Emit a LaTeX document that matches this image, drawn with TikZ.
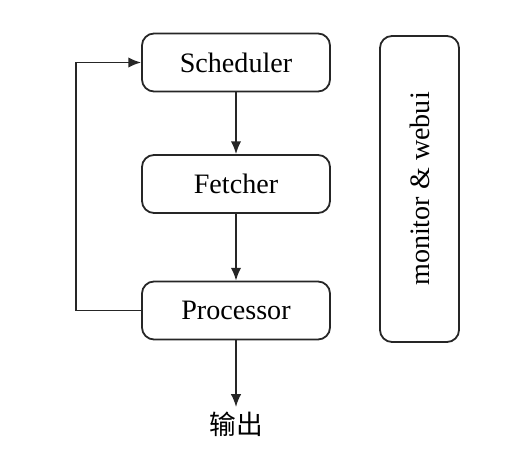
\documentclass[tikz,border=0pt]{standalone}
\usepackage{fontspec}
\setmainfont{Liberation Serif}
\newfontfamily\cjk{Noto Sans CJK SC}
\usetikzlibrary{arrows.meta}
\begin{document}
\begin{tikzpicture}[
    stagebox/.style={draw=black!85, line width=0.045cm, rounded corners=0.3cm, minimum width=4.7cm, minimum height=1.45cm},
    flowline/.style={draw=black!85, line width=0.04cm, -{Latex[length=0.32cm,width=0.26cm]}}
  ]
  \useasboundingbox (0.000000,0.000000) rectangle (13.075000,11.725000);
  {\fontsize{20}{24}\selectfont

  % Drawing the three stages
  \node [stagebox] (scheduler) at (5.900000,10.162500) {Scheduler};
  \node [stagebox] (fetcher) at (5.900000,7.125000) {Fetcher};
  \node [stagebox] (processor) at (5.900000,3.962500) {Processor};

  % Drawing box monitor & webui
  \node [stagebox, minimum width=7.65cm, minimum height=1.975cm, rotate=90] (monitor) at (10.487500,7.000000) {monitor \& webui};

  % Drawing output text
  \node [inner sep=0.12cm, anchor=north] (output) at (5.900000,1.550000) {\cjk\fontsize{19}{22}\selectfont 输出};

  % Drawing arrows between the stages
  \draw [flowline] (scheduler) -- (fetcher);
  \draw [flowline] (fetcher) -- (processor);
  \draw [flowline] (processor) -- (output);

  % Drawing feedback line
  \draw [flowline] (processor.west) -| (1.900000,7.000000) |- (scheduler.west);
  }
\end{tikzpicture}
\end{document}
